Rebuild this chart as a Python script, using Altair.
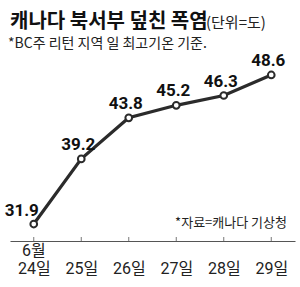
import altair as alt
import pandas as pd

days = ["24", "25", "26", "27", "28", "29"]
temps = [31.9, 39.2, 43.8, 45.2, 46.3, 48.6]
labels = ["31.9", "39.2", "43.8", "45.2", "46.3", "48.6"]
month_label = ["6월"]
month_day = ["24"]

title_main = "캐나다 북서부 덮친 폭염"
title_unit = "(단위=도)"
subtitle = "*BC주 리턴 지역 일 최고기온 기준."
source = "*자료=캐나다 기상청"

df = pd.DataFrame({"day": days, "temp": temps, "label": labels})
df_month = pd.DataFrame({"day": month_day, "m": month_label})

NUM_FONT = "Liberation Sans Narrow, Roboto, Noto Sans CJK KR"
KR_FONT = "Noto Sans CJK KR"
DARK = "#2b2b2b"

x = alt.X(
    "day:O",
    sort=days,
    scale=alt.Scale(type="point", padding=0.5),
    axis=alt.Axis(
        title=None,
        ticks=False,
        domainColor="#555555",
        domainWidth=1.2,
        labelAngle=0,
        labelFont=NUM_FONT,
        labelFontSize=16,
        labelColor="#222222",
        labelPadding=19,
        labelBaseline="top",
        labelExpr="datum.value + '일'",
    ),
)
y = alt.Y("temp:Q", scale=alt.Scale(domain=[30, 57], zero=False, nice=False), axis=None)

base = alt.Chart(df)

ticks = base.mark_rule(color="#777777", strokeWidth=1).encode(
    x=x, y=alt.value(237), y2=alt.value(241)
)
line = base.mark_line(color=DARK, strokeWidth=3.2).encode(x=x, y=y)
points = base.mark_point(
    shape="circle", filled=True, fill="white", stroke=DARK, strokeWidth=2, size=45, opacity=1
).encode(x=x, y=y)

lbl_first = base.transform_filter("datum.day == '24'").mark_text(
    font=NUM_FONT, fontSize=17, fontWeight="bold", color="#111111", dx=-12, dy=-8, baseline="alphabetic"
).encode(x=x, y=y, text="label:N")
lbl_rest = base.transform_filter("datum.day != '24'").mark_text(
    font=NUM_FONT, fontSize=17, fontWeight="bold", color="#111111", dx=-3, dy=-9, baseline="alphabetic"
).encode(x=x, y=y, text="label:N")

month = alt.Chart(df_month).mark_text(
    font=NUM_FONT, fontSize=16, color="#222222", baseline="top"
).encode(x=x, y=alt.value(243), text="m:N")

t_main = alt.Chart(pd.DataFrame({"t": [title_main]})).mark_text(
    font=KR_FONT, fontSize=20, fontWeight="bold", color="#111111", align="left", baseline="alphabetic"
).encode(x=alt.value(0), y=alt.value(28), text="t:N")
t_unit = alt.Chart(pd.DataFrame({"t": [title_unit]})).mark_text(
    font=KR_FONT, fontSize=15, color="#222222", align="left", baseline="alphabetic"
).encode(x=alt.value(196), y=alt.value(28), text="t:N")
t_sub = alt.Chart(pd.DataFrame({"t": [subtitle]})).mark_text(
    font=KR_FONT, fontSize=14, color="#222222", align="left", baseline="alphabetic"
).encode(x=alt.value(-2), y=alt.value(48), text="t:N")
t_src = alt.Chart(pd.DataFrame({"t": [source]})).mark_text(
    font=KR_FONT, fontSize=13, color="#222222", align="right", baseline="alphabetic"
).encode(x=alt.value(277), y=alt.value(227), text="t:N")

chart = alt.layer(ticks, line, points, lbl_first, lbl_rest, month, t_main, t_unit, t_sub, t_src).properties(
    width=285,
    height=241,
    autosize=alt.AutoSizeParams(type="none"),
    padding={"left": 10, "top": 0, "right": 5, "bottom": 46},
    background="white",
).configure_view(stroke=None)

chart.save("out.html", embed_options={"renderer": "svg", "actions": False})
